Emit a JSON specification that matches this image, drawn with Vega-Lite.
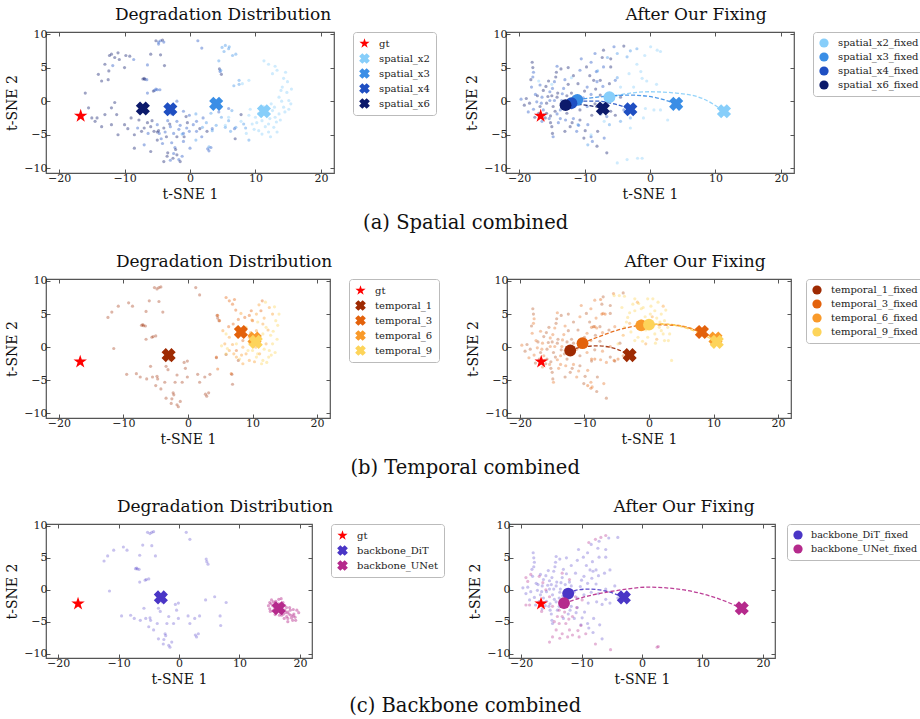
{
  "$schema": "https://vega.github.io/schema/vega-lite/v6.json",
  "config": {
    "font": "DejaVu Serif",
    "view": {"stroke": "#555555", "strokeWidth": 1.2},
    "axis": {"grid": false, "domain": false, "tickSize": -4, "tickColor": "#555555", "tickWidth": 1, "labelFont": "DejaVu Serif", "labelFontSize": 11, "labelColor": "#222222", "labelPadding": 3, "titleFont": "DejaVu Serif", "titleFontSize": 14, "titleFontWeight": "normal", "titleColor": "#111111", "titlePadding": 4},
    "title": {"font": "DejaVu Serif", "fontSize": 17, "fontWeight": "normal", "color": "#111111", "anchor": "middle", "offset": 4},
    "legend": {"orient": "right", "offset": 18, "strokeColor": "#bbbbbb", "fillColor": "#ffffff", "padding": 6, "cornerRadius": 3, "labelFont": "DejaVu Serif", "labelFontSize": 10, "labelColor": "#222222", "labelOffset": 9, "symbolSize": 115, "rowPadding": 4, "symbolStrokeWidth": 0, "title": null}
  },
  "datasets": {
    "core": [
      {"x": -12.4, "y": 4.5, "g": 1}, {"x": -11.8, "y": 5.3, "g": 2}, {"x": -10.8, "y": 6.2, "g": 1}, {"x": -9.2, "y": 6.7, "g": 1},
      {"x": -8.6, "y": 6.2, "g": 2}, {"x": -6, "y": 7, "g": 1}, {"x": -6.5, "y": 5.4, "g": 2}, {"x": -7.2, "y": 3.3, "g": 1},
      {"x": -6.9, "y": 3.25, "g": 1}, {"x": -6.5, "y": 1.2, "g": 2}, {"x": -5.4, "y": 1.6, "g": 2}, {"x": -5, "y": 1.7, "g": 2},
      {"x": -11.5, "y": -0.2, "g": 1}, {"x": -5.2, "y": 9, "g": 1}, {"x": -4.5, "y": 9, "g": 2}, {"x": -4.5, "y": 6.9, "g": 1},
      {"x": -3.9, "y": 5.3, "g": 1}, {"x": 1.2, "y": 9, "g": 2}, {"x": 1.8, "y": 7.9, "g": 2}, {"x": 4.5, "y": 4.8, "g": 1},
      {"x": 4.8, "y": 4, "g": 1}, {"x": 4.4, "y": -1.6, "g": 2}, {"x": 5.9, "y": -1.1, "g": 2}, {"x": 7.8, "y": -2, "g": 1},
      {"x": 6.8, "y": -4.1, "g": 2}, {"x": 6.9, "y": -5.6, "g": 1}, {"x": 2.9, "y": -7.4, "g": 2}, {"x": 3.2, "y": -6.9, "g": 2},
      {"x": 2.6, "y": -4.5, "g": 1}, {"x": 3.4, "y": -4.1, "g": 2}, {"x": 1.5, "y": -4.1, "g": 1}, {"x": 1.8, "y": -5.3, "g": 2},
      {"x": -0.1, "y": -2.1, "g": 2}, {"x": -0.4, "y": -3.2, "g": 1}, {"x": -0.1, "y": -4.5, "g": 2}, {"x": -0.9, "y": -5.3, "g": 1},
      {"x": -1.7, "y": -4.2, "g": 2}, {"x": -2, "y": -5.3, "g": 1}, {"x": -2.3, "y": -6.9, "g": 2}, {"x": -2.6, "y": -8.5, "g": 1},
      {"x": -1.7, "y": -8.7, "g": 2}, {"x": -3.4, "y": -7.7, "g": 1}, {"x": -4.2, "y": -6.3, "g": 2}, {"x": -5, "y": -5.8, "g": 1},
      {"x": -5.5, "y": -4.5, "g": 1}, {"x": -6.4, "y": -4.8, "g": 2}, {"x": -7.4, "y": -4.5, "g": 1}, {"x": -8, "y": -4, "g": 2},
      {"x": -9.5, "y": -4.1, "g": 1}, {"x": -5.8, "y": -2.9, "g": 1}, {"x": -3.4, "y": -2.9, "g": 2}, {"x": -2.8, "y": -1.9, "g": 2},
      {"x": -3.1, "y": -3.4, "g": 1}, {"x": -4.7, "y": -4.8, "g": 2}, {"x": -3.6, "y": -5.3, "g": 1}, {"x": -1.2, "y": -8.2, "g": 2},
      {"x": -1.5, "y": -9, "g": 1}, {"x": -4.8, "y": -4.4, "g": 1}, {"x": -2.5, "y": -7.8, "g": 2}, {"x": -0.6, "y": -2.3, "g": 1},
      {"x": -7, "y": 3.4, "g": 1}, {"x": -6.6, "y": 3.2, "g": 2}, {"x": -5.6, "y": 1.5, "g": 1}, {"x": -4.8, "y": 8.8, "g": 2},
      {"x": -4.2, "y": 9.1, "g": 1}, {"x": -2.2, "y": -7.2, "g": 1}, {"x": 2.7, "y": -7.1, "g": 2}, {"x": 4.6, "y": 4.4, "g": 2}
    ],
    "spray": [
      {"x": -18, "y": 5.8, "g": 1}, {"x": -17.9, "y": 5, "g": 1}, {"x": -17.8, "y": 4.3, "g": 2}, {"x": -18.1, "y": 2.1, "g": 2},
      {"x": -18.9, "y": 0.4, "g": 1}, {"x": -19.7, "y": 0.3, "g": 2}, {"x": -14.3, "y": 4.3, "g": 1}, {"x": -14.4, "y": 3.6, "g": 1},
      {"x": -14.6, "y": 2.9, "g": 2}, {"x": -11.7, "y": 3.8, "g": 1}, {"x": -10.7, "y": 4.6, "g": 2}, {"x": -9.7, "y": 5.1, "g": 1},
      {"x": -8.4, "y": 7.1, "g": 2}, {"x": -7.1, "y": 7.6, "g": 1}, {"x": -5.5, "y": 8.1, "g": 2}, {"x": -4, "y": 8.2, "g": 1},
      {"x": -8.6, "y": 3.1, "g": 1}, {"x": -7.6, "y": 3.1, "g": 1}, {"x": -8.1, "y": 2.9, "g": 2}, {"x": -9.6, "y": 2.1, "g": 2},
      {"x": -7.6, "y": 0.9, "g": 1}, {"x": -6, "y": 0.1, "g": 2}, {"x": -4.5, "y": 0.6, "g": 1}, {"x": -7.1, "y": 5.1, "g": 2},
      {"x": -6, "y": 5.1, "g": 1}, {"x": -15, "y": -3.8, "g": 1}, {"x": -14.9, "y": -4.8, "g": 1}, {"x": -14.8, "y": -5.3, "g": 2},
      {"x": -12.2, "y": -3.8, "g": 1}, {"x": -11.2, "y": -4.5, "g": 2}, {"x": -10.1, "y": -5.5, "g": 1}, {"x": -8.8, "y": -6, "g": 2},
      {"x": -8.1, "y": -6.7, "g": 1}, {"x": -11.7, "y": -2.6, "g": 2}, {"x": -10.7, "y": -2.8, "g": 1}, {"x": -6.6, "y": -2.3, "g": 2},
      {"x": -5.3, "y": -2.1, "g": 1}, {"x": -4, "y": -1.3, "g": 2}, {"x": -6.6, "y": -7.7, "g": 1}, {"x": -16.8, "y": -0.8, "g": 1},
      {"x": -16.3, "y": -1.3, "g": 2}, {"x": -15.8, "y": -0.3, "g": 1}, {"x": -15.3, "y": 0.1, "g": 2}, {"x": -14.8, "y": -0.8, "g": 1},
      {"x": -13.7, "y": -1.3, "g": 2}, {"x": -15.8, "y": -1.8, "g": 1}, {"x": -17.3, "y": -0.1, "g": 2}, {"x": -18.4, "y": -0.3, "g": 1},
      {"x": -16.5, "y": 0.6, "g": 2}, {"x": -14.2, "y": 0.6, "g": 1}, {"x": -13.5, "y": 0.1, "g": 2}, {"x": -12.7, "y": -1.8, "g": 1},
      {"x": -13.7, "y": -2.6, "g": 2}, {"x": -16.3, "y": 1.6, "g": 1}, {"x": -15.3, "y": 1.4, "g": 2}, {"x": -17, "y": -1.8, "g": 1},
      {"x": -13.2, "y": 1.9, "g": 2}, {"x": -11.7, "y": 0.6, "g": 1}, {"x": -11.2, "y": -0.3, "g": 2}, {"x": -10.7, "y": -1.3, "g": 1},
      {"x": -9.6, "y": -0.8, "g": 2}, {"x": -8.9, "y": -2.1, "g": 1}, {"x": -12.5, "y": 2.5, "g": 1}, {"x": -13, "y": 3.2, "g": 2},
      {"x": -10, "y": 1.5, "g": 1}, {"x": -9, "y": 1, "g": 2}, {"x": -12, "y": -1, "g": 1}, {"x": -14, "y": -3.2, "g": 2},
      {"x": -13, "y": -4.5, "g": 1}, {"x": -9.5, "y": -3.5, "g": 2}, {"x": -8, "y": -4.5, "g": 1}, {"x": -7, "y": -5.5, "g": 2},
      {"x": -16, "y": -2.5, "g": 1}, {"x": -17.5, "y": 1, "g": 2}, {"x": -15.5, "y": 3, "g": 1}, {"x": -16.5, "y": -3, "g": 2},
      {"x": -6, "y": 6.3, "g": 1}, {"x": -10.5, "y": 6.3, "g": 2}, {"x": -12.5, "y": 5, "g": 1}, {"x": -14.5, "y": -1.5, "g": 1},
      {"x": -13, "y": -0.5, "g": 2}, {"x": -15, "y": 0.8, "g": 1}, {"x": -17.8, "y": -1.2, "g": 2}, {"x": -12, "y": 1.2, "g": 1},
      {"x": -17.2, "y": 0.8, "g": 1}, {"x": -16.8, "y": 2.4, "g": 2}, {"x": -15.9, "y": 2.2, "g": 1}, {"x": -14.9, "y": 1.9, "g": 2},
      {"x": -14.1, "y": 1.2, "g": 1}, {"x": -13.4, "y": 1.1, "g": 2}, {"x": -12.7, "y": 0.8, "g": 1}, {"x": -12.4, "y": -0.2, "g": 2},
      {"x": -13.1, "y": -1, "g": 1}, {"x": -14.2, "y": -1.9, "g": 2}, {"x": -15.2, "y": -2.2, "g": 1}, {"x": -16.2, "y": -2, "g": 2},
      {"x": -17.6, "y": -2.4, "g": 1}, {"x": -18.6, "y": -1.6, "g": 2}, {"x": -19.2, "y": -0.6, "g": 1}, {"x": -16.6, "y": -0.3, "g": 2},
      {"x": -15.6, "y": 0.7, "g": 1}, {"x": -14.6, "y": 0.1, "g": 2}, {"x": -13.6, "y": -0.4, "g": 1}, {"x": -12.9, "y": -2.8, "g": 2},
      {"x": -11.9, "y": -3.2, "g": 1}, {"x": -10.9, "y": -3.6, "g": 2}, {"x": -9.9, "y": -4.4, "g": 1}, {"x": -9, "y": -5.3, "g": 2},
      {"x": -8.3, "y": 1.8, "g": 1}, {"x": -7.2, "y": 2.2, "g": 2}, {"x": -6.2, "y": 2.6, "g": 1}, {"x": -5.3, "y": 3.1, "g": 2},
      {"x": -9.2, "y": 3.8, "g": 1}, {"x": -8.2, "y": 4.4, "g": 2}, {"x": -7.3, "y": 6.5, "g": 1}, {"x": -9, "y": 5.8, "g": 2},
      {"x": -11, "y": 2.6, "g": 1}, {"x": -10.2, "y": 0.5, "g": 2}, {"x": -8.4, "y": -0.4, "g": 1}, {"x": -7.2, "y": -0.6, "g": 2},
      {"x": -6, "y": -1.5, "g": 1}, {"x": -7.5, "y": -1.9, "g": 2}, {"x": -15.2, "y": -3.2, "g": 1}, {"x": -15.4, "y": -2.6, "g": 2},
      {"x": -18.2, "y": 3.2, "g": 1}, {"x": -17.9, "y": 3.6, "g": 2}, {"x": -13.6, "y": 4.8, "g": 1}, {"x": -14.2, "y": 5.2, "g": 2}
    ],
    "spmark": [
      {"label": "gt", "x": -16.7, "y": -2.2}, {"label": "spatial_x2", "x": 11.3, "y": -1.5}, {"label": "spatial_x3", "x": 4, "y": -0.4},
      {"label": "spatial_x4", "x": -3, "y": -1.2}, {"label": "spatial_x6", "x": -7.2, "y": -1.1}
    ],
    "temark": [
      {"label": "gt", "x": -16.7, "y": -2.2}, {"label": "temporal_1", "x": -3, "y": -1.2}, {"label": "temporal_3", "x": 8.2, "y": 2.3},
      {"label": "temporal_6", "x": 10.3, "y": 1.3}, {"label": "temporal_9", "x": 10.5, "y": 0.8}
    ],
    "bbmark": [
      {"label": "gt", "x": -16.7, "y": -2.2}, {"label": "backbone_DiT", "x": -3, "y": -1.2}, {"label": "backbone_UNet", "x": 16.5, "y": -2.9}
    ],
    "a1x": [
      {"s": "spatial_x6", "x": -15, "y": -2.5}, {"s": "spatial_x6", "x": -14.5, "y": -3}, {"s": "spatial_x6", "x": -13, "y": -2},
      {"s": "spatial_x6", "x": -12, "y": -1}, {"s": "spatial_x6", "x": -16, "y": 1.2}, {"s": "spatial_x6", "x": -14, "y": 4},
      {"s": "spatial_x6", "x": -13.5, "y": 3}, {"s": "spatial_x6", "x": -15.5, "y": -1}, {"s": "spatial_x6", "x": -10, "y": -3.5},
      {"s": "spatial_x6", "x": -11, "y": -5}, {"s": "spatial_x6", "x": -8.5, "y": -7}, {"s": "spatial_x6", "x": -6, "y": -7.5},
      {"s": "spatial_x6", "x": -4, "y": -9}, {"s": "spatial_x6", "x": -9, "y": -2.5}, {"s": "spatial_x6", "x": -12, "y": 7},
      {"s": "spatial_x6", "x": -11, "y": 7.2}, {"s": "spatial_x6", "x": -13, "y": 5.5}, {"s": "spatial_x6", "x": -12.5, "y": 3.2},
      {"s": "spatial_x6", "x": -10, "y": 5}, {"s": "spatial_x6", "x": -6, "y": -3.8}, {"s": "spatial_x6", "x": -5, "y": -4.6},
      {"s": "spatial_x6", "x": -4, "y": -4}, {"s": "spatial_x6", "x": -7, "y": -4}, {"s": "spatial_x6", "x": -8.5, "y": -5},
      {"s": "spatial_x6", "x": -6.5, "y": -3.2}, {"s": "spatial_x6", "x": -7.8, "y": -2.8}, {"s": "spatial_x6", "x": -12, "y": -3.5},
      {"s": "spatial_x6", "x": -13.5, "y": -3.8}, {"s": "spatial_x6", "x": -14.2, "y": -2.5}, {"s": "spatial_x6", "x": -11.2, "y": -2},
      {"s": "spatial_x6", "x": -9.8, "y": 6.8}, {"s": "spatial_x6", "x": -11.5, "y": 6.5}, {"s": "spatial_x6", "x": -12.3, "y": 6.8},
      {"s": "spatial_x6", "x": -3.5, "y": -8.2}, {"s": "spatial_x6", "x": -2, "y": -8},
      {"s": "spatial_x4", "x": -3, "y": -8.8}, {"s": "spatial_x4", "x": -7, "y": -6.5},
      {"s": "spatial_x4", "x": -5, "y": -3.5}, {"s": "spatial_x4", "x": -2, "y": -3}, {"s": "spatial_x4", "x": -1, "y": -6},
      {"s": "spatial_x4", "x": 0, "y": -7}, {"s": "spatial_x4", "x": 1, "y": -3}, {"s": "spatial_x4", "x": 2, "y": -2.5},
      {"s": "spatial_x4", "x": -4.8, "y": 8.5}, {"s": "spatial_x4", "x": -4, "y": 8.8}, {"s": "spatial_x4", "x": -2, "y": 0},
      {"s": "spatial_x4", "x": -1, "y": -1.5}, {"s": "spatial_x4", "x": -3.8, "y": -4.6}, {"s": "spatial_x4", "x": -2.5, "y": -4.8},
      {"s": "spatial_x4", "x": -1.5, "y": -3.6}, {"s": "spatial_x4", "x": -0.5, "y": -4}, {"s": "spatial_x4", "x": 0.5, "y": -3.5},
      {"s": "spatial_x4", "x": -4.4, "y": -5.6}, {"s": "spatial_x4", "x": -2.8, "y": -6.2}, {"s": "spatial_x4", "x": -3, "y": -3.8},
      {"s": "spatial_x4", "x": -1, "y": -4.8}, {"s": "spatial_x4", "x": 1, "y": -4.5}, {"s": "spatial_x4", "x": -5.2, "y": 1.8},
      {"s": "spatial_x4", "x": -4.6, "y": 1.7},
      {"s": "spatial_x3", "x": 4.9, "y": 8}, {"s": "spatial_x3", "x": 5.4, "y": 8.3}, {"s": "spatial_x3", "x": 5.9, "y": 7.8},
      {"s": "spatial_x3", "x": 7, "y": 7}, {"s": "spatial_x3", "x": 4.4, "y": 6}, {"s": "spatial_x3", "x": 4.7, "y": 4.6},
      {"s": "spatial_x3", "x": 6.7, "y": 2.3}, {"s": "spatial_x3", "x": 7.5, "y": 3.1}, {"s": "spatial_x3", "x": 0.9, "y": -1.9},
      {"s": "spatial_x3", "x": 1.9, "y": -3.9}, {"s": "spatial_x3", "x": 3.4, "y": -4.4}, {"s": "spatial_x3", "x": 5.4, "y": -3.9},
      {"s": "spatial_x3", "x": 7, "y": -3.9}, {"s": "spatial_x3", "x": 5.9, "y": -2.9}, {"s": "spatial_x3", "x": 2.9, "y": -6.8},
      {"s": "spatial_x3", "x": 9, "y": -5.8}, {"s": "spatial_x3", "x": 8.2, "y": -3.4}, {"s": "spatial_x3", "x": 6.4, "y": -1.4},
      {"s": "spatial_x3", "x": -1.2, "y": -4.9}, {"s": "spatial_x3", "x": 0.9, "y": -5.8}, {"s": "spatial_x3", "x": 6, "y": 8.1},
      {"s": "spatial_x3", "x": 5.2, "y": 7.4}, {"s": "spatial_x3", "x": 6.5, "y": 6.8}, {"s": "spatial_x3", "x": 7.5, "y": 2.5},
      {"s": "spatial_x3", "x": 2.5, "y": -3.2}, {"s": "spatial_x3", "x": 4, "y": -3.6}, {"s": "spatial_x3", "x": 6.2, "y": -4.5},
      {"s": "spatial_x3", "x": 8.5, "y": -4}, {"s": "spatial_x3", "x": 4.8, "y": -2.4}, {"s": "spatial_x3", "x": 3.2, "y": -1.8},
      {"s": "spatial_x2", "x": 11.3, "y": 6}, {"s": "spatial_x2", "x": 12.6, "y": 4.1}, {"s": "spatial_x2", "x": 13.3, "y": 4.6},
      {"s": "spatial_x2", "x": 14.6, "y": 4.3}, {"s": "spatial_x2", "x": 14.1, "y": 2.1}, {"s": "spatial_x2", "x": 14.8, "y": 1.3},
      {"s": "spatial_x2", "x": 15.1, "y": 0.1}, {"s": "spatial_x2", "x": 15.4, "y": -0.4}, {"s": "spatial_x2", "x": 14.3, "y": -0.9},
      {"s": "spatial_x2", "x": 13.6, "y": 0.6}, {"s": "spatial_x2", "x": 12.6, "y": -1.4}, {"s": "spatial_x2", "x": 13, "y": -2.4},
      {"s": "spatial_x2", "x": 12, "y": -3.4}, {"s": "spatial_x2", "x": 11, "y": -2.9}, {"s": "spatial_x2", "x": 10, "y": -2.4},
      {"s": "spatial_x2", "x": 9.5, "y": -3.4}, {"s": "spatial_x2", "x": 9, "y": -2.1}, {"s": "spatial_x2", "x": 12, "y": -4.6},
      {"s": "spatial_x2", "x": 12.3, "y": -5.3}, {"s": "spatial_x2", "x": 10.5, "y": -4.4}, {"s": "spatial_x2", "x": 5.4, "y": -3.6},
      {"s": "spatial_x2", "x": 5.9, "y": -2.4}, {"s": "spatial_x2", "x": 8, "y": 2.6}, {"s": "spatial_x2", "x": 9, "y": 3.1},
      {"s": "spatial_x2", "x": 13.6, "y": -1.9}, {"s": "spatial_x2", "x": 11.8, "y": -1.9}, {"s": "spatial_x2", "x": 10.8, "y": -1.4},
      {"s": "spatial_x2", "x": 12.2, "y": -2.6}, {"s": "spatial_x2", "x": 13.2, "y": -3.1}, {"s": "spatial_x2", "x": 14.9, "y": 2.9},
      {"s": "spatial_x2", "x": 10.2, "y": -3.2}, {"s": "spatial_x2", "x": 11.5, "y": -3.8}, {"s": "spatial_x2", "x": 12.8, "y": -3.9},
      {"s": "spatial_x2", "x": 13.8, "y": -2.8}, {"s": "spatial_x2", "x": 14.5, "y": -1.6}, {"s": "spatial_x2", "x": 11.2, "y": -0.8},
      {"s": "spatial_x2", "x": 12.4, "y": -0.4}, {"s": "spatial_x2", "x": 10.5, "y": -1.8}, {"s": "spatial_x2", "x": 9.8, "y": -4.2},
      {"s": "spatial_x2", "x": 11, "y": -4.9}, {"s": "spatial_x2", "x": 13.3, "y": -4.6}, {"s": "spatial_x2", "x": 14, "y": 0},
      {"s": "spatial_x2", "x": 15.5, "y": 1.8}, {"s": "spatial_x2", "x": 14.3, "y": 3.4}, {"s": "spatial_x2", "x": 13, "y": 5.2},
      {"s": "spatial_x2", "x": 12, "y": 5.5}, {"s": "spatial_x2", "x": 8.6, "y": -4.8}, {"s": "spatial_x2", "x": 7.8, "y": -3},
      {"s": "spatial_x2", "x": 9.2, "y": -1.2}, {"s": "spatial_x2", "x": 12.9, "y": -0.9}, {"s": "spatial_x2", "x": 15.1, "y": -1.2},
      {"s": "spatial_x2", "x": 13.9, "y": 1.6}
    ],
    "b1x": [
      {"s": "temporal_3", "x": 5.9, "y": 7.5}, {"s": "temporal_3", "x": 6.4, "y": 7}, {"s": "temporal_3", "x": 6.9, "y": 6.5},
      {"s": "temporal_3", "x": 4.6, "y": 4.8}, {"s": "temporal_3", "x": 4.9, "y": 4}, {"s": "temporal_3", "x": 4.4, "y": -1.5},
      {"s": "temporal_3", "x": 4.6, "y": -3.3}, {"s": "temporal_3", "x": 6.7, "y": -4}, {"s": "temporal_3", "x": 9.5, "y": 4.8},
      {"s": "temporal_3", "x": 10, "y": 4}, {"s": "temporal_3", "x": 11.3, "y": 5.5}, {"s": "temporal_3", "x": 11.5, "y": 7},
      {"s": "temporal_3", "x": 8.5, "y": 1}, {"s": "temporal_3", "x": 7.5, "y": -0.5}, {"s": "temporal_3", "x": 7.2, "y": 7.2},
      {"s": "temporal_3", "x": 7, "y": 3.5}, {"s": "temporal_3", "x": 7.8, "y": 4.2}, {"s": "temporal_3", "x": 8.8, "y": 4.5},
      {"s": "temporal_3", "x": 9.8, "y": 5.5}, {"s": "temporal_3", "x": 6.3, "y": 3.1}, {"s": "temporal_3", "x": 7.4, "y": 5.6},
      {"s": "temporal_6", "x": 5.7, "y": 0.5}, {"s": "temporal_6", "x": 6.4, "y": -0.5}, {"s": "temporal_6", "x": 7.5, "y": -1.5},
      {"s": "temporal_6", "x": 8.5, "y": 0}, {"s": "temporal_6", "x": 9.5, "y": 1.5}, {"s": "temporal_6", "x": 10.6, "y": 2.5},
      {"s": "temporal_6", "x": 11.6, "y": 3.5}, {"s": "temporal_6", "x": 12.6, "y": 6}, {"s": "temporal_6", "x": 13.1, "y": 5},
      {"s": "temporal_6", "x": 12.1, "y": 0.5}, {"s": "temporal_6", "x": 11.1, "y": -1}, {"s": "temporal_6", "x": 9.5, "y": -2},
      {"s": "temporal_6", "x": 8.5, "y": -2.5}, {"s": "temporal_6", "x": 6.4, "y": 1.5}, {"s": "temporal_6", "x": 5.4, "y": 2.5},
      {"s": "temporal_6", "x": 9, "y": -1}, {"s": "temporal_6", "x": 10.5, "y": 0}, {"s": "temporal_6", "x": 11.2, "y": 1.6},
      {"s": "temporal_6", "x": 10.6, "y": 5}, {"s": "temporal_6", "x": 11.8, "y": 4.4}, {"s": "temporal_6", "x": 12.4, "y": 2.6},
      {"s": "temporal_6", "x": 9.7, "y": 2.2}, {"s": "temporal_6", "x": 8.9, "y": 2.6}, {"s": "temporal_6", "x": 7.9, "y": 1.8},
      {"s": "temporal_6", "x": 6.9, "y": 0.4}, {"s": "temporal_6", "x": 7.1, "y": -1}, {"s": "temporal_6", "x": 8.3, "y": -1.2},
      {"s": "temporal_6", "x": 10.3, "y": -2.2}, {"s": "temporal_6", "x": 11, "y": 6.4}, {"s": "temporal_6", "x": 9.9, "y": 4.1},
      {"s": "temporal_6", "x": 8.2, "y": 5.1},
      {"s": "temporal_9", "x": 12.6, "y": -0.5}, {"s": "temporal_9", "x": 13.1, "y": 0.5}, {"s": "temporal_9", "x": 13.6, "y": 4},
      {"s": "temporal_9", "x": 14.1, "y": 5}, {"s": "temporal_9", "x": 10.6, "y": -1.5}, {"s": "temporal_9", "x": 11.6, "y": -2},
      {"s": "temporal_9", "x": 9.5, "y": 0.5}, {"s": "temporal_9", "x": 9, "y": 3}, {"s": "temporal_9", "x": 5.9, "y": 2},
      {"s": "temporal_9", "x": 11.6, "y": 2}, {"s": "temporal_9", "x": 12.1, "y": 3}, {"s": "temporal_9", "x": 10, "y": -0.5},
      {"s": "temporal_9", "x": 7.5, "y": 0.5}, {"s": "temporal_9", "x": 5.9, "y": -1}, {"s": "temporal_9", "x": 12.8, "y": 1.8},
      {"s": "temporal_9", "x": 8, "y": -1.8}, {"s": "temporal_9", "x": 10.8, "y": 3.8}, {"s": "temporal_9", "x": 12.5, "y": -1.5},
      {"s": "temporal_9", "x": 13.2, "y": 2.4}, {"s": "temporal_9", "x": 12.9, "y": -1.2}, {"s": "temporal_9", "x": 11.8, "y": -0.3},
      {"s": "temporal_9", "x": 10.9, "y": 1}, {"s": "temporal_9", "x": 6.1, "y": -0.2}, {"s": "temporal_9", "x": 9.3, "y": -0.5},
      {"s": "temporal_9", "x": 11.4, "y": -2.5}, {"s": "temporal_9", "x": 12.2, "y": -2.3}, {"s": "temporal_9", "x": 13.5, "y": -0.8},
      {"s": "temporal_9", "x": 13.8, "y": 1.2}, {"s": "temporal_9", "x": 12, "y": 6.8}, {"s": "temporal_9", "x": 13.4, "y": 6.1},
      {"s": "temporal_9", "x": 5.2, "y": 0.2}, {"s": "temporal_9", "x": 10.8, "y": -1}, {"s": "temporal_9", "x": 13.9, "y": 3.3}
    ],
    "c1x": [
      {"s": "backbone_UNet", "x": 15, "y": -2}, {"s": "backbone_UNet", "x": 15.5, "y": -2.5}, {"s": "backbone_UNet", "x": 16, "y": -1.8},
      {"s": "backbone_UNet", "x": 16.5, "y": -2.2}, {"s": "backbone_UNet", "x": 17, "y": -2.8}, {"s": "backbone_UNet", "x": 17.5, "y": -3.2},
      {"s": "backbone_UNet", "x": 18, "y": -3.5}, {"s": "backbone_UNet", "x": 18.5, "y": -4}, {"s": "backbone_UNet", "x": 19, "y": -3.8},
      {"s": "backbone_UNet", "x": 19.5, "y": -3.2}, {"s": "backbone_UNet", "x": 18, "y": -4.5}, {"s": "backbone_UNet", "x": 17, "y": -4},
      {"s": "backbone_UNet", "x": 16, "y": -3.5}, {"s": "backbone_UNet", "x": 15.5, "y": -3.3}, {"s": "backbone_UNet", "x": 15, "y": -3},
      {"s": "backbone_UNet", "x": 14.8, "y": -2.5}, {"s": "backbone_UNet", "x": 16.5, "y": -1.5}, {"s": "backbone_UNet", "x": 17.2, "y": -2},
      {"s": "backbone_UNet", "x": 18.3, "y": -2.8}, {"s": "backbone_UNet", "x": 18.8, "y": -4.8}, {"s": "backbone_UNet", "x": 17.8, "y": -4.2},
      {"s": "backbone_UNet", "x": 16.8, "y": -3.6}, {"s": "backbone_UNet", "x": 15.8, "y": -2.8}, {"s": "backbone_UNet", "x": 16.2, "y": -3},
      {"s": "backbone_UNet", "x": 17.5, "y": -2.5}, {"s": "backbone_UNet", "x": 19.2, "y": -4.3}, {"s": "backbone_UNet", "x": 18, "y": -5},
      {"s": "backbone_UNet", "x": 15.3, "y": -1.6}, {"s": "backbone_UNet", "x": 16.9, "y": -1.4}, {"s": "backbone_UNet", "x": 19.8, "y": -3.6},
      {"s": "backbone_UNet", "x": 15.2, "y": -2.2}, {"s": "backbone_UNet", "x": 15.9, "y": -2.1}, {"s": "backbone_UNet", "x": 16.4, "y": -2.6},
      {"s": "backbone_UNet", "x": 17.1, "y": -3.1}, {"s": "backbone_UNet", "x": 17.7, "y": -3.6}, {"s": "backbone_UNet", "x": 18.4, "y": -3.2},
      {"s": "backbone_UNet", "x": 18.9, "y": -3.1}, {"s": "backbone_UNet", "x": 19.3, "y": -4.8}, {"s": "backbone_UNet", "x": 18.6, "y": -4.4},
      {"s": "backbone_UNet", "x": 17.4, "y": -4.5}, {"s": "backbone_UNet", "x": 16.6, "y": -4}, {"s": "backbone_UNet", "x": 15.9, "y": -3.9},
      {"s": "backbone_UNet", "x": 15.1, "y": -3.4}, {"s": "backbone_UNet", "x": 16.1, "y": -2.4}, {"s": "backbone_UNet", "x": 17.8, "y": -2.8},
      {"s": "backbone_UNet", "x": 18.2, "y": -3.8}, {"s": "backbone_UNet", "x": 16.7, "y": -3.3}, {"s": "backbone_UNet", "x": 17.3, "y": -3.8},
      {"s": "backbone_UNet", "x": 15.6, "y": -1.9}, {"s": "backbone_UNet", "x": 18.9, "y": -4.1}
    ],
    "a2x": [
      {"s": "spatial_x2", "x": 0.1, "y": 8.1}, {"s": "spatial_x2", "x": 1.1, "y": 7.6}, {"s": "spatial_x2", "x": 1.6, "y": 7.4},
      {"s": "spatial_x2", "x": -1.4, "y": 4.4}, {"s": "spatial_x2", "x": -1.2, "y": 3.4}, {"s": "spatial_x2", "x": -2.5, "y": 2.1},
      {"s": "spatial_x2", "x": -0.7, "y": -1.1}, {"s": "spatial_x2", "x": 0.6, "y": -1.3}, {"s": "spatial_x2", "x": 1.6, "y": -1.3},
      {"s": "spatial_x2", "x": -5, "y": -9.2}, {"s": "spatial_x2", "x": -3.5, "y": -8.7}, {"s": "spatial_x2", "x": -1.9, "y": -8.5},
      {"s": "spatial_x2", "x": -1.2, "y": -8.5}, {"s": "spatial_x2", "x": 2.7, "y": -2.8}, {"s": "spatial_x2", "x": -3.2, "y": 4.1},
      {"s": "spatial_x2", "x": -4.5, "y": 2.1}, {"s": "spatial_x2", "x": -2, "y": 5.5}, {"s": "spatial_x2", "x": -0.5, "y": 3},
      {"s": "spatial_x2", "x": -7, "y": -3}, {"s": "spatial_x2", "x": -9, "y": -5}, {"s": "spatial_x2", "x": -3, "y": -4},
      {"s": "spatial_x2", "x": -1, "y": -2.5}, {"s": "spatial_x2", "x": 1, "y": 2.5}, {"s": "spatial_x2", "x": -0.8, "y": 6.8},
      {"s": "spatial_x2", "x": -15, "y": 2.5}, {"s": "spatial_x2", "x": -12, "y": 3.5}, {"s": "spatial_x2", "x": -17, "y": 3},
      {"s": "spatial_x3", "x": -5, "y": 7.1}, {"s": "spatial_x3", "x": -3.5, "y": 6.6}, {"s": "spatial_x3", "x": -3, "y": 7.5},
      {"s": "spatial_x3", "x": -2, "y": 7.8}, {"s": "spatial_x3", "x": -6.5, "y": 6.5}, {"s": "spatial_x3", "x": -8, "y": 4.5},
      {"s": "spatial_x3", "x": -5, "y": 3.5}, {"s": "spatial_x3", "x": -6.2, "y": -3.5}, {"s": "spatial_x3", "x": -4.5, "y": -3},
      {"s": "spatial_x3", "x": -3, "y": -2.5}, {"s": "spatial_x3", "x": -9.5, "y": -6.5}, {"s": "spatial_x3", "x": -11, "y": -3.5}
    ],
    "b2x": [
      {"s": "temporal_9", "x": -5.4, "y": 7.8}, {"s": "temporal_9", "x": -4.6, "y": 7.8}, {"s": "temporal_9", "x": -3.8, "y": 7.7},
      {"s": "temporal_9", "x": -2.2, "y": 7.3}, {"s": "temporal_9", "x": -0.2, "y": 7.3}, {"s": "temporal_9", "x": 0.6, "y": 7.3},
      {"s": "temporal_9", "x": 1.4, "y": 6.8}, {"s": "temporal_9", "x": -0.9, "y": 6}, {"s": "temporal_9", "x": -2.2, "y": 5.5},
      {"s": "temporal_9", "x": -3.3, "y": 4.5}, {"s": "temporal_9", "x": 0.9, "y": 5.5}, {"s": "temporal_9", "x": 1.9, "y": 5},
      {"s": "temporal_9", "x": 2.4, "y": 4}, {"s": "temporal_9", "x": 2.9, "y": 3}, {"s": "temporal_9", "x": 1.9, "y": 2.5},
      {"s": "temporal_9", "x": 0.9, "y": 2}, {"s": "temporal_9", "x": -0.2, "y": 1.5}, {"s": "temporal_9", "x": -1.7, "y": 1.5},
      {"s": "temporal_9", "x": -2.8, "y": 2.3}, {"s": "temporal_9", "x": -3.8, "y": 3}, {"s": "temporal_9", "x": -1.2, "y": 4},
      {"s": "temporal_9", "x": 0.4, "y": 3.5}, {"s": "temporal_9", "x": 1.7, "y": 3.8}, {"s": "temporal_9", "x": 3.2, "y": 2},
      {"s": "temporal_9", "x": 2.4, "y": 1}, {"s": "temporal_9", "x": 3.5, "y": -2}, {"s": "temporal_9", "x": -2.2, "y": 1},
      {"s": "temporal_9", "x": -4.8, "y": 0.5}, {"s": "temporal_9", "x": -1.2, "y": 5.8}, {"s": "temporal_9", "x": -2.5, "y": 6.5},
      {"s": "temporal_9", "x": -3, "y": 5.2}, {"s": "temporal_9", "x": -1.6, "y": 6.6}, {"s": "temporal_9", "x": 0.3, "y": 6.2},
      {"s": "temporal_9", "x": 1.2, "y": 4.4}, {"s": "temporal_9", "x": -0.5, "y": 2.6}, {"s": "temporal_9", "x": -2, "y": 3.2},
      {"s": "temporal_9", "x": -3.5, "y": 3.8}, {"s": "temporal_9", "x": 2.2, "y": 2}, {"s": "temporal_9", "x": 1, "y": 0.6},
      {"s": "temporal_9", "x": -1, "y": 0.9}, {"s": "temporal_9", "x": 3, "y": 1}, {"s": "temporal_9", "x": 2.6, "y": 5.6},
      {"s": "temporal_9", "x": -4.2, "y": 6}, {"s": "temporal_9", "x": 0.2, "y": 5}, {"s": "temporal_9", "x": -0.6, "y": 4.6},
      {"s": "temporal_9", "x": 1.6, "y": 3},
      {"s": "temporal_6", "x": -1.5, "y": 2.8}, {"s": "temporal_6", "x": 0.5, "y": 4.6}, {"s": "temporal_6", "x": -3, "y": 3.6},
      {"s": "temporal_6", "x": 1.2, "y": 1.2}, {"s": "temporal_6", "x": -0.5, "y": 0.5}, {"s": "temporal_6", "x": -4, "y": 1.8},
      {"s": "temporal_6", "x": 2.2, "y": 6.2}, {"s": "temporal_6", "x": -1.8, "y": 6.8},
      {"s": "temporal_3", "x": -6.8, "y": 5}, {"s": "temporal_3", "x": -7.3, "y": 5}, {"s": "temporal_3", "x": -8.9, "y": 3},
      {"s": "temporal_3", "x": -8.4, "y": 3.1}, {"s": "temporal_3", "x": -4.8, "y": -1.8}, {"s": "temporal_3", "x": -5.4, "y": -2},
      {"s": "temporal_3", "x": -8.9, "y": -1.8}, {"s": "temporal_3", "x": -8.4, "y": -1.8}, {"s": "temporal_3", "x": -7.5, "y": 7.2},
      {"s": "temporal_3", "x": -9.5, "y": -5.8}, {"s": "temporal_3", "x": -9, "y": -6.2}
    ],
    "c2x": [
      {"s": "backbone_UNet", "x": -19.2, "y": 1.9}, {"s": "backbone_UNet", "x": -18.9, "y": 1.3}, {"s": "backbone_UNet", "x": -19.2, "y": -2.4},
      {"s": "backbone_UNet", "x": -18.6, "y": -2.4}, {"s": "backbone_UNet", "x": -18.4, "y": 2.4}, {"s": "backbone_UNet", "x": -17, "y": 2.1},
      {"s": "backbone_UNet", "x": -16.4, "y": 1.1}, {"s": "backbone_UNet", "x": -13.7, "y": -3.2}, {"s": "backbone_UNet", "x": -13.2, "y": -4.2},
      {"s": "backbone_UNet", "x": -12.6, "y": -5.3}, {"s": "backbone_UNet", "x": -12, "y": -6.3}, {"s": "backbone_UNet", "x": -11.5, "y": -7.1},
      {"s": "backbone_UNet", "x": -10.4, "y": -7.4}, {"s": "backbone_UNet", "x": -9.3, "y": -6.9}, {"s": "backbone_UNet", "x": -13.7, "y": -5.3},
      {"s": "backbone_UNet", "x": -14.2, "y": -6.3}, {"s": "backbone_UNet", "x": -14.8, "y": -7.4}, {"s": "backbone_UNet", "x": -15.3, "y": -8.2},
      {"s": "backbone_UNet", "x": -13.2, "y": -6.9}, {"s": "backbone_UNet", "x": -12.3, "y": -7.4}, {"s": "backbone_UNet", "x": -7.7, "y": -8.5},
      {"s": "backbone_UNet", "x": -5.2, "y": -9.4}, {"s": "backbone_UNet", "x": 2.5, "y": -9}, {"s": "backbone_UNet", "x": 2.7, "y": -8.9},
      {"s": "backbone_UNet", "x": -8.8, "y": 7.4}, {"s": "backbone_UNet", "x": -7.7, "y": 7.9}, {"s": "backbone_UNet", "x": -6.8, "y": 8.2},
      {"s": "backbone_UNet", "x": -6, "y": 8.5}, {"s": "backbone_UNet", "x": -13.2, "y": 2.6}, {"s": "backbone_UNet", "x": -12, "y": 1.6},
      {"s": "backbone_UNet", "x": -11, "y": -1.1}, {"s": "backbone_UNet", "x": -9.9, "y": -1.6}, {"s": "backbone_UNet", "x": -15.3, "y": -1.1},
      {"s": "backbone_UNet", "x": -15.9, "y": 0}, {"s": "backbone_UNet", "x": -14.8, "y": -2.6}, {"s": "backbone_UNet", "x": -14, "y": -4.2},
      {"s": "backbone_UNet", "x": -11.5, "y": -4.2}, {"s": "backbone_UNet", "x": -10.1, "y": -5.6}, {"s": "backbone_UNet", "x": -12.8, "y": -3.5},
      {"s": "backbone_UNet", "x": -10.8, "y": -2.8}, {"s": "backbone_UNet", "x": -14.5, "y": -5}, {"s": "backbone_UNet", "x": -12.1, "y": -4.6},
      {"s": "backbone_UNet", "x": -10.6, "y": -6.4}, {"s": "backbone_UNet", "x": -13.6, "y": -7.6}, {"s": "backbone_UNet", "x": -16.6, "y": -3.4}
    ],
    "a2t": [
      {"s": "spatial_x2", "x": 11.3, "y": -1.5}, {"s": "spatial_x2", "x": 8, "y": 0.4}, {"s": "spatial_x2", "x": 4, "y": 1.2},
      {"s": "spatial_x2", "x": 0, "y": 1.4}, {"s": "spatial_x2", "x": -3, "y": 1.2}, {"s": "spatial_x2", "x": -6.2, "y": 0.6},
      {"s": "spatial_x3", "x": 4, "y": -0.4}, {"s": "spatial_x3", "x": 1, "y": 0.5}, {"s": "spatial_x3", "x": -3, "y": 0.9},
      {"s": "spatial_x3", "x": -7, "y": 0.7}, {"s": "spatial_x3", "x": -11.1, "y": 0.2},
      {"s": "spatial_x4", "x": -3, "y": -1.2}, {"s": "spatial_x4", "x": -5.5, "y": -0.4}, {"s": "spatial_x4", "x": -8, "y": 0},
      {"s": "spatial_x4", "x": -10, "y": 0}, {"s": "spatial_x4", "x": -12, "y": -0.3},
      {"s": "spatial_x6", "x": -7.2, "y": -1.1}, {"s": "spatial_x6", "x": -9, "y": -0.7}, {"s": "spatial_x6", "x": -11, "y": -0.5},
      {"s": "spatial_x6", "x": -12.9, "y": -0.6}
    ],
    "b2t": [
      {"s": "temporal_1", "x": -2.9, "y": -1.2}, {"s": "temporal_1", "x": -5, "y": -0.3}, {"s": "temporal_1", "x": -8, "y": 0.2},
      {"s": "temporal_1", "x": -10.5, "y": 0}, {"s": "temporal_1", "x": -12.2, "y": -0.5},
      {"s": "temporal_3", "x": 8.2, "y": 2.2}, {"s": "temporal_3", "x": 4, "y": 3.3}, {"s": "temporal_3", "x": 0, "y": 3.4},
      {"s": "temporal_3", "x": -4, "y": 2.8}, {"s": "temporal_3", "x": -8, "y": 1.5}, {"s": "temporal_3", "x": -10.3, "y": 0.6},
      {"s": "temporal_6", "x": 10.3, "y": 1.3}, {"s": "temporal_6", "x": 6, "y": 3}, {"s": "temporal_6", "x": 2, "y": 3.5},
      {"s": "temporal_6", "x": -1.2, "y": 3.3},
      {"s": "temporal_9", "x": 10.5, "y": 0.8}, {"s": "temporal_9", "x": 6, "y": 2.8}, {"s": "temporal_9", "x": 2, "y": 3.5},
      {"s": "temporal_9", "x": 0, "y": 3.4}
    ],
    "c2t": [
      {"s": "backbone_DiT", "x": -3, "y": -1.2}, {"s": "backbone_DiT", "x": -6, "y": -0.2}, {"s": "backbone_DiT", "x": -9, "y": 0.1},
      {"s": "backbone_DiT", "x": -11, "y": -0.1}, {"s": "backbone_DiT", "x": -12.2, "y": -0.6},
      {"s": "backbone_UNet", "x": 16.5, "y": -2.9}, {"s": "backbone_UNet", "x": 12, "y": -1.2}, {"s": "backbone_UNet", "x": 6, "y": 0.1},
      {"s": "backbone_UNet", "x": 1, "y": 0.4}, {"s": "backbone_UNet", "x": -4, "y": -0.1}, {"s": "backbone_UNet", "x": -9, "y": -1},
      {"s": "backbone_UNet", "x": -12.9, "y": -2.1}
    ],
    "a2f": [
      {"label": "spatial_x2_fixed", "x": -6.2, "y": 0.6}, {"label": "spatial_x3_fixed", "x": -11.1, "y": 0.2},
      {"label": "spatial_x4_fixed", "x": -12, "y": -0.3}, {"label": "spatial_x6_fixed", "x": -12.9, "y": -0.6}
    ],
    "b2f": [
      {"label": "temporal_1_fixed", "x": -12.2, "y": -0.5}, {"label": "temporal_3_fixed", "x": -10.3, "y": 0.6},
      {"label": "temporal_6_fixed", "x": -1.2, "y": 3.3}, {"label": "temporal_9_fixed", "x": 0, "y": 3.4}
    ],
    "c2f": [
      {"label": "backbone_DiT_fixed", "x": -12.2, "y": -0.6}, {"label": "backbone_UNet_fixed", "x": -12.9, "y": -2.1}
    ]
  },
  "spacing": 19,
  "resolve": {"scale": {"color": "independent", "shape": "independent"}},
  "vconcat": [
    {
      "title": {"text": "(a) Spatial combined", "orient": "bottom", "anchor": "middle", "fontSize": 19.5, "offset": 12},
      "spacing": 27,
      "resolve": {"scale": {"color": "independent", "shape": "independent"}},
      "hconcat": [
        {
          "width": 288, "height": 141, "title": {"text": "Degradation Distribution", "dx": 33},
          "resolve": {"scale": {"color": "independent", "shape": "independent"}, "axis": {"x": "independent", "y": "independent"}},
          "layer": [
            {"data": {"name": "core"}, "mark": {"type": "circle", "size": 10, "opacity": 0.4},
             "encoding": {
               "x": {"field": "x", "type": "quantitative", "scale": {"domain": [-22, 22], "nice": false, "zero": false}, "axis": {"title": "t-SNE 1", "values": [-20, -10, 0, 10, 20]}},
               "y": {"field": "y", "type": "quantitative", "scale": {"domain": [-10.7, 10.3], "nice": false, "zero": false}, "axis": {"title": "t-SNE 2", "values": [-10, -5, 0, 5, 10]}},
               "color": {"field": "g", "type": "nominal", "scale": {"domain": [1, 2], "range": ["#0c1a6b", "#1f4fc2"]}, "legend": null}}},
            {"data": {"name": "a1x"}, "mark": {"type": "circle", "size": 10, "opacity": 0.4},
             "encoding": {
               "x": {"field": "x", "type": "quantitative", "scale": {"domain": [-22, 22], "nice": false, "zero": false}, "axis": {"orient": "top", "labels": false, "title": null, "values": [-20, -10, 0, 10, 20]}},
               "y": {"field": "y", "type": "quantitative", "scale": {"domain": [-10.7, 10.3], "nice": false, "zero": false}, "axis": {"orient": "right", "labels": false, "title": null, "values": [-10, -5, 0, 5, 10]}},
               "color": {"field": "s", "type": "nominal", "scale": {"domain": ["spatial_x2", "spatial_x3", "spatial_x4", "spatial_x6"], "range": ["#87cefa", "#3a8ee6", "#1f4fc2", "#0c1a6b"]}, "legend": null}}},
            {"data": {"name": "spmark"}, "mark": {"type": "point", "filled": true, "opacity": 1, "size": 200},
             "encoding": {
               "x": {"field": "x", "type": "quantitative", "scale": {"domain": [-22, 22], "nice": false, "zero": false}, "axis": null},
               "y": {"field": "y", "type": "quantitative", "scale": {"domain": [-10.7, 10.3], "nice": false, "zero": false}, "axis": null},
               "color": {"field": "label", "type": "nominal", "scale": {"domain": ["gt", "spatial_x2", "spatial_x3", "spatial_x4", "spatial_x6"], "range": ["#ff0000", "#87cefa", "#3a8ee6", "#1f4fc2", "#0c1a6b"]}, "legend": {"title": null}},
               "shape": {"field": "label", "type": "nominal", "scale": {"domain": ["gt", "spatial_x2", "spatial_x3", "spatial_x4", "spatial_x6"], "range": ["M0,-1L0.225,-0.309L0.951,-0.309L0.364,0.118L0.588,0.809L0,0.382L-0.588,0.809L-0.364,0.118L-0.951,-0.309L-0.225,-0.309Z", "M-0.4,-1L0,-0.6L0.4,-1L1,-0.4L0.6,0L1,0.4L0.4,1L0,0.6L-0.4,1L-1,0.4L-0.6,0L-1,-0.4Z", "M-0.4,-1L0,-0.6L0.4,-1L1,-0.4L0.6,0L1,0.4L0.4,1L0,0.6L-0.4,1L-1,0.4L-0.6,0L-1,-0.4Z", "M-0.4,-1L0,-0.6L0.4,-1L1,-0.4L0.6,0L1,0.4L0.4,1L0,0.6L-0.4,1L-1,0.4L-0.6,0L-1,-0.4Z", "M-0.4,-1L0,-0.6L0.4,-1L1,-0.4L0.6,0L1,0.4L0.4,1L0,0.6L-0.4,1L-1,0.4L-0.6,0L-1,-0.4Z"]}, "legend": {"title": null}}}}
          ]
        },
        {
          "width": 288, "height": 141, "title": {"text": "After Our Fixing", "dx": 46},
          "resolve": {"scale": {"color": "independent", "shape": "independent"}, "axis": {"x": "independent", "y": "independent"}},
          "layer": [
            {"data": {"name": "spray"}, "mark": {"type": "circle", "size": 10, "opacity": 0.4},
             "encoding": {
               "x": {"field": "x", "type": "quantitative", "scale": {"domain": [-22, 22], "nice": false, "zero": false}, "axis": {"title": "t-SNE 1", "values": [-20, -10, 0, 10, 20]}},
               "y": {"field": "y", "type": "quantitative", "scale": {"domain": [-10.7, 10.3], "nice": false, "zero": false}, "axis": {"title": "t-SNE 2", "values": [-10, -5, 0, 5, 10]}},
               "color": {"field": "g", "type": "nominal", "scale": {"domain": [1, 2], "range": ["#0c1a6b", "#1f4fc2"]}, "legend": null}}},
            {"data": {"name": "a2x"}, "mark": {"type": "circle", "size": 10, "opacity": 0.4},
             "encoding": {
               "x": {"field": "x", "type": "quantitative", "scale": {"domain": [-22, 22], "nice": false, "zero": false}, "axis": {"orient": "top", "labels": false, "title": null, "values": [-20, -10, 0, 10, 20]}},
               "y": {"field": "y", "type": "quantitative", "scale": {"domain": [-10.7, 10.3], "nice": false, "zero": false}, "axis": {"orient": "right", "labels": false, "title": null, "values": [-10, -5, 0, 5, 10]}},
               "color": {"field": "s", "type": "nominal", "scale": {"domain": ["spatial_x2", "spatial_x3", "spatial_x4", "spatial_x6"], "range": ["#87cefa", "#3a8ee6", "#1f4fc2", "#0c1a6b"]}, "legend": null}}},
            {"data": {"name": "a2t"}, "mark": {"type": "line", "strokeWidth": 1.3, "strokeDash": [4, 2], "interpolate": "monotone", "opacity": 0.9},
             "encoding": {
               "x": {"field": "x", "type": "quantitative", "scale": {"domain": [-22, 22], "nice": false, "zero": false}, "axis": null},
               "y": {"field": "y", "type": "quantitative", "scale": {"domain": [-10.7, 10.3], "nice": false, "zero": false}, "axis": null},
               "color": {"field": "s", "type": "nominal", "scale": {"domain": ["spatial_x2", "spatial_x3", "spatial_x4", "spatial_x6"], "range": ["#87cefa", "#3a8ee6", "#1f4fc2", "#0c1a6b"]}, "legend": null}}},
            {"data": {"name": "spmark"}, "mark": {"type": "point", "filled": true, "opacity": 1, "size": 200},
             "encoding": {
               "x": {"field": "x", "type": "quantitative", "scale": {"domain": [-22, 22], "nice": false, "zero": false}, "axis": null},
               "y": {"field": "y", "type": "quantitative", "scale": {"domain": [-10.7, 10.3], "nice": false, "zero": false}, "axis": null},
               "color": {"field": "label", "type": "nominal", "scale": {"domain": ["gt", "spatial_x2", "spatial_x3", "spatial_x4", "spatial_x6"], "range": ["#ff0000", "#87cefa", "#3a8ee6", "#1f4fc2", "#0c1a6b"]}, "legend": null},
               "shape": {"field": "label", "type": "nominal", "scale": {"domain": ["gt", "spatial_x2", "spatial_x3", "spatial_x4", "spatial_x6"], "range": ["M0,-1L0.225,-0.309L0.951,-0.309L0.364,0.118L0.588,0.809L0,0.382L-0.588,0.809L-0.364,0.118L-0.951,-0.309L-0.225,-0.309Z", "M-0.4,-1L0,-0.6L0.4,-1L1,-0.4L0.6,0L1,0.4L0.4,1L0,0.6L-0.4,1L-1,0.4L-0.6,0L-1,-0.4Z", "M-0.4,-1L0,-0.6L0.4,-1L1,-0.4L0.6,0L1,0.4L0.4,1L0,0.6L-0.4,1L-1,0.4L-0.6,0L-1,-0.4Z", "M-0.4,-1L0,-0.6L0.4,-1L1,-0.4L0.6,0L1,0.4L0.4,1L0,0.6L-0.4,1L-1,0.4L-0.6,0L-1,-0.4Z", "M-0.4,-1L0,-0.6L0.4,-1L1,-0.4L0.6,0L1,0.4L0.4,1L0,0.6L-0.4,1L-1,0.4L-0.6,0L-1,-0.4Z"]}, "legend": null}}},
            {"data": {"name": "a2f"}, "mark": {"type": "point", "filled": true, "shape": "circle", "opacity": 1, "size": 140},
             "encoding": {
               "x": {"field": "x", "type": "quantitative", "scale": {"domain": [-22, 22], "nice": false, "zero": false}, "axis": null},
               "y": {"field": "y", "type": "quantitative", "scale": {"domain": [-10.7, 10.3], "nice": false, "zero": false}, "axis": null},
               "color": {"field": "label", "type": "nominal", "scale": {"domain": ["spatial_x2_fixed", "spatial_x3_fixed", "spatial_x4_fixed", "spatial_x6_fixed"], "range": ["#87cefa", "#3a8ee6", "#1f4fc2", "#0c1a6b"]}, "legend": {"title": null, "symbolSize": 85}}}}
          ]
        }
      ]
    },
    {
      "title": {"text": "(b) Temporal combined", "orient": "bottom", "anchor": "middle", "fontSize": 19.5, "offset": 12},
      "spacing": 25,
      "resolve": {"scale": {"color": "independent", "shape": "independent"}},
      "hconcat": [
        {
          "width": 284, "height": 139, "title": {"text": "Degradation Distribution", "dx": 36},
          "resolve": {"scale": {"color": "independent", "shape": "independent"}, "axis": {"x": "independent", "y": "independent"}},
          "layer": [
            {"data": {"name": "core"}, "mark": {"type": "circle", "size": 10, "opacity": 0.35, "color": "#9e2a02"},
             "encoding": {
               "x": {"field": "x", "type": "quantitative", "scale": {"domain": [-22, 22], "nice": false, "zero": false}, "axis": {"title": "t-SNE 1", "values": [-20, -10, 0, 10, 20]}},
               "y": {"field": "y", "type": "quantitative", "scale": {"domain": [-10.7, 10.3], "nice": false, "zero": false}, "axis": {"title": "t-SNE 2", "values": [-10, -5, 0, 5, 10]}}}},
            {"data": {"name": "b1x"}, "mark": {"type": "circle", "size": 10, "opacity": 0.4},
             "encoding": {
               "x": {"field": "x", "type": "quantitative", "scale": {"domain": [-22, 22], "nice": false, "zero": false}, "axis": {"orient": "top", "labels": false, "title": null, "values": [-20, -10, 0, 10, 20]}},
               "y": {"field": "y", "type": "quantitative", "scale": {"domain": [-10.7, 10.3], "nice": false, "zero": false}, "axis": {"orient": "right", "labels": false, "title": null, "values": [-10, -5, 0, 5, 10]}},
               "color": {"field": "s", "type": "nominal", "scale": {"domain": ["temporal_1", "temporal_3", "temporal_6", "temporal_9"], "range": ["#9e2a02", "#e3620c", "#f99a2a", "#fdd45a"]}, "legend": null}}},
            {"data": {"name": "temark"}, "mark": {"type": "point", "filled": true, "opacity": 1, "size": 200},
             "encoding": {
               "x": {"field": "x", "type": "quantitative", "scale": {"domain": [-22, 22], "nice": false, "zero": false}, "axis": null},
               "y": {"field": "y", "type": "quantitative", "scale": {"domain": [-10.7, 10.3], "nice": false, "zero": false}, "axis": null},
               "color": {"field": "label", "type": "nominal", "scale": {"domain": ["gt", "temporal_1", "temporal_3", "temporal_6", "temporal_9"], "range": ["#ff0000", "#9e2a02", "#e3620c", "#f99a2a", "#fdd45a"]}, "legend": {"title": null}},
               "shape": {"field": "label", "type": "nominal", "scale": {"domain": ["gt", "temporal_1", "temporal_3", "temporal_6", "temporal_9"], "range": ["M0,-1L0.225,-0.309L0.951,-0.309L0.364,0.118L0.588,0.809L0,0.382L-0.588,0.809L-0.364,0.118L-0.951,-0.309L-0.225,-0.309Z", "M-0.4,-1L0,-0.6L0.4,-1L1,-0.4L0.6,0L1,0.4L0.4,1L0,0.6L-0.4,1L-1,0.4L-0.6,0L-1,-0.4Z", "M-0.4,-1L0,-0.6L0.4,-1L1,-0.4L0.6,0L1,0.4L0.4,1L0,0.6L-0.4,1L-1,0.4L-0.6,0L-1,-0.4Z", "M-0.4,-1L0,-0.6L0.4,-1L1,-0.4L0.6,0L1,0.4L0.4,1L0,0.6L-0.4,1L-1,0.4L-0.6,0L-1,-0.4Z", "M-0.4,-1L0,-0.6L0.4,-1L1,-0.4L0.6,0L1,0.4L0.4,1L0,0.6L-0.4,1L-1,0.4L-0.6,0L-1,-0.4Z"]}, "legend": {"title": null}}}}
          ]
        },
        {
          "width": 284, "height": 139, "title": {"text": "After Our Fixing", "dx": 46},
          "resolve": {"scale": {"color": "independent", "shape": "independent"}, "axis": {"x": "independent", "y": "independent"}},
          "layer": [
            {"data": {"name": "spray"}, "mark": {"type": "circle", "size": 10, "opacity": 0.35},
             "encoding": {
               "x": {"field": "x", "type": "quantitative", "scale": {"domain": [-22, 22], "nice": false, "zero": false}, "axis": {"title": "t-SNE 1", "values": [-20, -10, 0, 10, 20]}},
               "y": {"field": "y", "type": "quantitative", "scale": {"domain": [-10.7, 10.3], "nice": false, "zero": false}, "axis": {"title": "t-SNE 2", "values": [-10, -5, 0, 5, 10]}},
               "color": {"field": "g", "type": "nominal", "scale": {"domain": [1, 2], "range": ["#b0460f", "#e3620c"]}, "legend": null}}},
            {"data": {"name": "b2x"}, "mark": {"type": "circle", "size": 10, "opacity": 0.4},
             "encoding": {
               "x": {"field": "x", "type": "quantitative", "scale": {"domain": [-22, 22], "nice": false, "zero": false}, "axis": {"orient": "top", "labels": false, "title": null, "values": [-20, -10, 0, 10, 20]}},
               "y": {"field": "y", "type": "quantitative", "scale": {"domain": [-10.7, 10.3], "nice": false, "zero": false}, "axis": {"orient": "right", "labels": false, "title": null, "values": [-10, -5, 0, 5, 10]}},
               "color": {"field": "s", "type": "nominal", "scale": {"domain": ["temporal_1", "temporal_3", "temporal_6", "temporal_9"], "range": ["#9e2a02", "#e3620c", "#f99a2a", "#fdd45a"]}, "legend": null}}},
            {"data": {"name": "b2t"}, "mark": {"type": "line", "strokeWidth": 1.3, "strokeDash": [4, 2], "interpolate": "monotone", "opacity": 0.9},
             "encoding": {
               "x": {"field": "x", "type": "quantitative", "scale": {"domain": [-22, 22], "nice": false, "zero": false}, "axis": null},
               "y": {"field": "y", "type": "quantitative", "scale": {"domain": [-10.7, 10.3], "nice": false, "zero": false}, "axis": null},
               "color": {"field": "s", "type": "nominal", "scale": {"domain": ["temporal_1", "temporal_3", "temporal_6", "temporal_9"], "range": ["#9e2a02", "#e3620c", "#f99a2a", "#fdd45a"]}, "legend": null}}},
            {"data": {"name": "b2f"}, "mark": {"type": "point", "filled": true, "shape": "circle", "opacity": 1, "size": 140},
             "encoding": {
               "x": {"field": "x", "type": "quantitative", "scale": {"domain": [-22, 22], "nice": false, "zero": false}, "axis": null},
               "y": {"field": "y", "type": "quantitative", "scale": {"domain": [-10.7, 10.3], "nice": false, "zero": false}, "axis": null},
               "color": {"field": "label", "type": "nominal", "scale": {"domain": ["temporal_1_fixed", "temporal_3_fixed", "temporal_6_fixed", "temporal_9_fixed"], "range": ["#9e2a02", "#e3620c", "#f99a2a", "#fdd45a"]}, "legend": {"title": null, "symbolSize": 85, "offset": 14}}}},
            {"data": {"name": "temark"}, "mark": {"type": "point", "filled": true, "opacity": 1, "size": 200},
             "encoding": {
               "x": {"field": "x", "type": "quantitative", "scale": {"domain": [-22, 22], "nice": false, "zero": false}, "axis": null},
               "y": {"field": "y", "type": "quantitative", "scale": {"domain": [-10.7, 10.3], "nice": false, "zero": false}, "axis": null},
               "color": {"field": "label", "type": "nominal", "scale": {"domain": ["gt", "temporal_1", "temporal_3", "temporal_6", "temporal_9"], "range": ["#ff0000", "#9e2a02", "#e3620c", "#f99a2a", "#fdd45a"]}, "legend": null},
               "shape": {"field": "label", "type": "nominal", "scale": {"domain": ["gt", "temporal_1", "temporal_3", "temporal_6", "temporal_9"], "range": ["M0,-1L0.225,-0.309L0.951,-0.309L0.364,0.118L0.588,0.809L0,0.382L-0.588,0.809L-0.364,0.118L-0.951,-0.309L-0.225,-0.309Z", "M-0.4,-1L0,-0.6L0.4,-1L1,-0.4L0.6,0L1,0.4L0.4,1L0,0.6L-0.4,1L-1,0.4L-0.6,0L-1,-0.4Z", "M-0.4,-1L0,-0.6L0.4,-1L1,-0.4L0.6,0L1,0.4L0.4,1L0,0.6L-0.4,1L-1,0.4L-0.6,0L-1,-0.4Z", "M-0.4,-1L0,-0.6L0.4,-1L1,-0.4L0.6,0L1,0.4L0.4,1L0,0.6L-0.4,1L-1,0.4L-0.6,0L-1,-0.4Z", "M-0.4,-1L0,-0.6L0.4,-1L1,-0.4L0.6,0L1,0.4L0.4,1L0,0.6L-0.4,1L-1,0.4L-0.6,0L-1,-0.4Z"]}, "legend": null}}}
          ]
        }
      ]
    },
    {
      "title": {"text": "(c) Backbone combined", "orient": "bottom", "anchor": "middle", "fontSize": 19.5, "offset": 10},
      "spacing": 22,
      "resolve": {"scale": {"color": "independent", "shape": "independent"}},
      "hconcat": [
        {
          "width": 266, "height": 134, "title": {"text": "Degradation Distribution", "dx": 46},
          "resolve": {"scale": {"color": "independent", "shape": "independent"}, "axis": {"x": "independent", "y": "independent"}},
          "layer": [
            {"data": {"name": "core"}, "mark": {"type": "circle", "size": 10, "opacity": 0.3, "color": "#4a36c6"},
             "encoding": {
               "x": {"field": "x", "type": "quantitative", "scale": {"domain": [-22, 22], "nice": false, "zero": false}, "axis": {"title": "t-SNE 1", "values": [-20, -10, 0, 10, 20]}},
               "y": {"field": "y", "type": "quantitative", "scale": {"domain": [-10.7, 10.3], "nice": false, "zero": false}, "axis": {"title": "t-SNE 2", "values": [-10, -5, 0, 5, 10]}}}},
            {"data": {"name": "c1x"}, "mark": {"type": "circle", "size": 10, "opacity": 0.45},
             "encoding": {
               "x": {"field": "x", "type": "quantitative", "scale": {"domain": [-22, 22], "nice": false, "zero": false}, "axis": {"orient": "top", "labels": false, "title": null, "values": [-20, -10, 0, 10, 20]}},
               "y": {"field": "y", "type": "quantitative", "scale": {"domain": [-10.7, 10.3], "nice": false, "zero": false}, "axis": {"orient": "right", "labels": false, "title": null, "values": [-10, -5, 0, 5, 10]}},
               "color": {"field": "s", "type": "nominal", "scale": {"domain": ["backbone_DiT", "backbone_UNet"], "range": ["#4a36c6", "#b52a8c"]}, "legend": null}}},
            {"data": {"name": "bbmark"}, "mark": {"type": "point", "filled": true, "opacity": 1, "size": 200},
             "encoding": {
               "x": {"field": "x", "type": "quantitative", "scale": {"domain": [-22, 22], "nice": false, "zero": false}, "axis": null},
               "y": {"field": "y", "type": "quantitative", "scale": {"domain": [-10.7, 10.3], "nice": false, "zero": false}, "axis": null},
               "color": {"field": "label", "type": "nominal", "scale": {"domain": ["gt", "backbone_DiT", "backbone_UNet"], "range": ["#ff0000", "#4a36c6", "#b52a8c"]}, "legend": {"title": null}},
               "shape": {"field": "label", "type": "nominal", "scale": {"domain": ["gt", "backbone_DiT", "backbone_UNet"], "range": ["M0,-1L0.225,-0.309L0.951,-0.309L0.364,0.118L0.588,0.809L0,0.382L-0.588,0.809L-0.364,0.118L-0.951,-0.309L-0.225,-0.309Z", "M-0.4,-1L0,-0.6L0.4,-1L1,-0.4L0.6,0L1,0.4L0.4,1L0,0.6L-0.4,1L-1,0.4L-0.6,0L-1,-0.4Z", "M-0.4,-1L0,-0.6L0.4,-1L1,-0.4L0.6,0L1,0.4L0.4,1L0,0.6L-0.4,1L-1,0.4L-0.6,0L-1,-0.4Z"]}, "legend": {"title": null}}}}
          ]
        },
        {
          "width": 266, "height": 134, "title": {"text": "After Our Fixing", "dx": 42},
          "resolve": {"scale": {"color": "independent", "shape": "independent"}, "axis": {"x": "independent", "y": "independent"}},
          "layer": [
            {"data": {"name": "spray"}, "mark": {"type": "circle", "size": 10, "opacity": 0.3, "color": "#4a36c6"},
             "encoding": {
               "x": {"field": "x", "type": "quantitative", "scale": {"domain": [-22, 22], "nice": false, "zero": false}, "axis": {"title": "t-SNE 1", "values": [-20, -10, 0, 10, 20]}},
               "y": {"field": "y", "type": "quantitative", "scale": {"domain": [-10.7, 10.3], "nice": false, "zero": false}, "axis": {"title": "t-SNE 2", "values": [-10, -5, 0, 5, 10]}}}},
            {"data": {"name": "c2x"}, "mark": {"type": "circle", "size": 10, "opacity": 0.35},
             "encoding": {
               "x": {"field": "x", "type": "quantitative", "scale": {"domain": [-22, 22], "nice": false, "zero": false}, "axis": {"orient": "top", "labels": false, "title": null, "values": [-20, -10, 0, 10, 20]}},
               "y": {"field": "y", "type": "quantitative", "scale": {"domain": [-10.7, 10.3], "nice": false, "zero": false}, "axis": {"orient": "right", "labels": false, "title": null, "values": [-10, -5, 0, 5, 10]}},
               "color": {"field": "s", "type": "nominal", "scale": {"domain": ["backbone_DiT", "backbone_UNet"], "range": ["#4a36c6", "#b52a8c"]}, "legend": null}}},
            {"data": {"name": "c2t"}, "mark": {"type": "line", "strokeWidth": 1.3, "strokeDash": [4, 2], "interpolate": "monotone", "opacity": 0.9},
             "encoding": {
               "x": {"field": "x", "type": "quantitative", "scale": {"domain": [-22, 22], "nice": false, "zero": false}, "axis": null},
               "y": {"field": "y", "type": "quantitative", "scale": {"domain": [-10.7, 10.3], "nice": false, "zero": false}, "axis": null},
               "color": {"field": "s", "type": "nominal", "scale": {"domain": ["backbone_DiT", "backbone_UNet"], "range": ["#4a36c6", "#b52a8c"]}, "legend": null}}},
            {"data": {"name": "c2f"}, "mark": {"type": "point", "filled": true, "shape": "circle", "opacity": 1, "size": 140},
             "encoding": {
               "x": {"field": "x", "type": "quantitative", "scale": {"domain": [-22, 22], "nice": false, "zero": false}, "axis": null},
               "y": {"field": "y", "type": "quantitative", "scale": {"domain": [-10.7, 10.3], "nice": false, "zero": false}, "axis": null},
               "color": {"field": "label", "type": "nominal", "scale": {"domain": ["backbone_DiT_fixed", "backbone_UNet_fixed"], "range": ["#4a36c6", "#b52a8c"]}, "legend": {"title": null, "symbolSize": 85, "offset": 11, "labelFontSize": 9.6, "labelOffset": 8}}}},
            {"data": {"name": "bbmark"}, "mark": {"type": "point", "filled": true, "opacity": 1, "size": 200},
             "encoding": {
               "x": {"field": "x", "type": "quantitative", "scale": {"domain": [-22, 22], "nice": false, "zero": false}, "axis": null},
               "y": {"field": "y", "type": "quantitative", "scale": {"domain": [-10.7, 10.3], "nice": false, "zero": false}, "axis": null},
               "color": {"field": "label", "type": "nominal", "scale": {"domain": ["gt", "backbone_DiT", "backbone_UNet"], "range": ["#ff0000", "#4a36c6", "#b52a8c"]}, "legend": null},
               "shape": {"field": "label", "type": "nominal", "scale": {"domain": ["gt", "backbone_DiT", "backbone_UNet"], "range": ["M0,-1L0.225,-0.309L0.951,-0.309L0.364,0.118L0.588,0.809L0,0.382L-0.588,0.809L-0.364,0.118L-0.951,-0.309L-0.225,-0.309Z", "M-0.4,-1L0,-0.6L0.4,-1L1,-0.4L0.6,0L1,0.4L0.4,1L0,0.6L-0.4,1L-1,0.4L-0.6,0L-1,-0.4Z", "M-0.4,-1L0,-0.6L0.4,-1L1,-0.4L0.6,0L1,0.4L0.4,1L0,0.6L-0.4,1L-1,0.4L-0.6,0L-1,-0.4Z"]}, "legend": null}}}
          ]
        }
      ]
    }
  ]
}
